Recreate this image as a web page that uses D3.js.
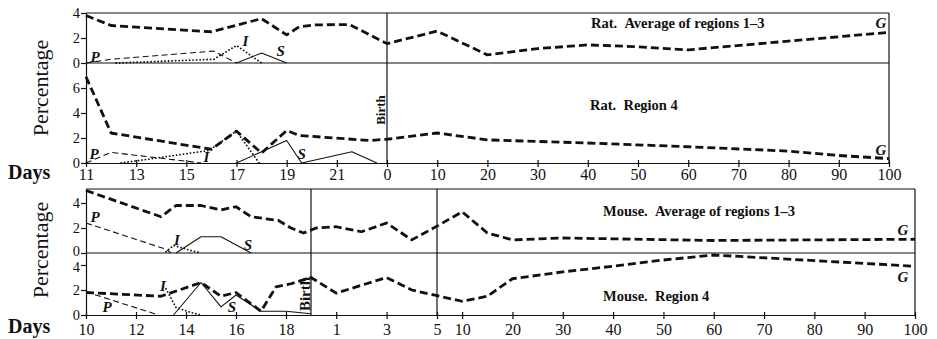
<!DOCTYPE html>
<html>
<head>
<meta charset="utf-8">
<script src="https://cdn.jsdelivr.net/npm/d3@7"></script>
<style>
  body { margin: 0; background: #fff; }
  svg text { font-family: "Liberation Serif", "DejaVu Serif", serif; fill: #111; }
</style>
</head>
<body>
<svg id="chart" width="937" height="339"></svg>
<script>
"use strict";

// prenatal points are [day of gestation, %], postnatal points are [day after birth, %]
const ratBirth = 23;
const mouseBirth = 19;

// Rat. Average of regions 1-3
const ratAvgG_pre = [[11, 3.8], [12, 3.0], [16, 2.5], [18, 3.55], [19, 2.25], [19.5, 2.9], [20.1, 3.05], [21.5, 3.08]];
const ratAvgG_post = [[0, 1.55], [10, 2.55], [20, 0.65], [30, 1.15], [40, 1.45], [50, 1.3], [60, 1.05], [80, 1.75], [100, 2.45]];
const ratAvgP = [[11, 0], [12, 0.3], [16.1, 0.95], [17, 0]];
const ratAvgI = [[12.2, 0], [16.1, 0.3], [17, 1.4], [18, 0]];
const ratAvgS = [[17, 0], [18, 0.8], [19, 0]];

// Rat. Region 4
const ratR4G_pre = [[11, 6.9], [12, 2.4], [16, 1.1], [17, 2.55], [18, 0.8], [19, 2.6], [19.5, 2.2], [22.3, 1.8]];
const ratR4G_post = [[0, 1.9], [10, 2.4], [20, 1.85], [40, 1.6], [60, 1.3], [80, 0.95], [90, 0.6], [100, 0.35]];
const ratR4P = [[11, 0], [12, 0.85], [15.6, 0]];
const ratR4I = [[12.4, 0], [15.9, 1.0], [17, 2.55], [17.9, 0]];
const ratR4S = [[17, 0], [19, 1.8], [19.6, 0], [21.6, 0.9], [22.6, 0]];

// Mouse. Average of regions 1-3
const mouseAvgG_pre = [[10, 5.0], [13, 2.9], [13.6, 3.8], [14.6, 3.8], [15.4, 3.45], [16, 3.7], [16.6, 2.9], [17.7, 2.6], [18.2, 2.0], [18.7, 1.6]];
const mouseAvgG_post = [[0.2, 2.0], [1, 2.1], [2, 1.7], [3, 2.4], [4, 1.05], [5, 2.15], [10, 3.3], [15, 1.6], [20, 1.05], [30, 1.2], [60, 1.0], [100, 1.1]];
const mouseAvgP = [[10, 2.4], [13.2, 0.3], [13.4, 0]];
const mouseAvgI = [[13.2, 0.1], [13.5, 0.6], [14.2, 0.2], [14.6, 0]];
const mouseAvgS = [[13.6, 0], [14.6, 1.3], [15.4, 1.3], [16.6, 0]];

// Mouse. Region 4
const mouseR4G_pre = [[10, 1.8], [13, 1.5], [14.6, 2.6], [15.4, 1.5], [16, 1.8], [17, 0.3], [17.6, 2.25], [18.2, 2.5]];
const mouseR4G_post = [[0, 3.0], [1, 1.75], [3, 3.0], [4, 2.0], [5, 1.55], [10, 1.1], [15, 1.5], [20, 2.9], [30, 3.45], [40, 3.9], [50, 4.4], [60, 4.8], [80, 4.35], [100, 3.9]];
const mouseR4P = [[10, 1.85], [12.9, 0]];
const mouseR4I = [[13.2, 2.1], [13.6, 0.6], [14.2, 0.2], [14.6, 0]];
const mouseR4S = [[13.5, 0], [14.6, 2.6], [15.4, 0.65], [16, 1.6], [17, 0.3], [18, 0.3], [19, 0.1]];

// axis ticks
const ratTicksPre = [11, 13, 15, 17, 19, 21];
const ratTicksPost = [0, 10, 20, 30, 40, 50, 60, 70, 80, 90, 100];
const mouseTicksPre = [10, 12, 14, 16, 18];
const mouseTicksPost = [1, 3, 5, 10, 20, 30, 40, 50, 60, 70, 80, 90, 100];

const serif = '"Liberation Serif", "DejaVu Serif", serif';
const svg = d3.select('#chart').style('font-family', serif);

// one continuous "age" axis: postnatal day p sits at birth + p
function toAge(pre, post, birth) {
  return pre.concat(post.map(function(d) { return [birth + d[0], d[1]]; }));
}

const ratX = d3.scaleLinear()
  .domain([11, ratBirth, ratBirth + 100])
  .range([86, 387, 889]);
const mouseX = d3.scaleLinear()
  .domain([10, mouseBirth, mouseBirth + 5, mouseBirth + 100])
  .range([86, 311, 437, 915]);

const ratTopY = d3.scaleLinear().domain([0, 4]).range([63, 13]);
const ratBotY = d3.scaleLinear().domain([0, 8]).range([163, 63]);
const mouseTopY = d3.scaleLinear().domain([0, 5.12]).range([253, 189]);
const mouseBotY = d3.scaleLinear().domain([0, 4.96]).range([315, 253]);

const styles = {
  G: { w: 2.8, dash: '8,4', cap: 'butt' },
  P: { w: 1.1, dash: '6,3.5', cap: 'butt' },
  I: { w: 1.8, dash: '0.1,3.4', cap: 'round' },
  S: { w: 1.1, dash: null, cap: 'butt' },
};

function drawSeries(x, y, pts, kind) {
  const st = styles[kind];
  svg.append('path')
    .datum(pts)
    .attr('fill', 'none')
    .attr('stroke', '#111')
    .attr('stroke-width', st.w)
    .attr('stroke-dasharray', st.dash)
    .attr('stroke-linecap', st.cap)
    .attr('stroke-linejoin', 'round')
    .attr('d', d3.line()
      .x(function(d) { return x(d[0]); })
      .y(function(d) { return y(d[1]); }));
}

function seriesLabel(x, y, at, kind) {
  svg.append('text')
    .attr('x', x(at[0]))
    .attr('y', y(at[1]))
    .attr('text-anchor', 'middle')
    .style('font-size', '15px')
    .style('font-style', 'italic')
    .style('font-weight', 'bold')
    .text(kind);
}

function styleAxis(g, size) {
  g.attr('font-family', null).attr('font-size', null);
  g.selectAll('text').style('font-family', serif).style('font-size', size + 'px').attr('fill', '#111');
  g.selectAll('line, path').attr('stroke', '#111').attr('stroke-width', 1.2);
}

// nudge: value -> small vertical shift of that tick's label, so stacked labels don't collide
function yAxis(scale, ticks, nudge) {
  const g = svg.append('g')
    .attr('transform', 'translate(86,0)')
    .call(d3.axisLeft(scale).tickValues(ticks).tickSize(5).tickPadding(1).tickSizeOuter(0).tickFormat(d3.format('d')));
  styleAxis(g, 14.5);
  if (nudge) {
    g.selectAll('.tick text').attr('y', function(d) { return nudge[d] || 0; });
  }
}

function xAxis(scale, y0, ages, labels, pad) {
  const g = svg.append('g')
    .attr('transform', 'translate(0,' + y0 + ')')
    .call(d3.axisBottom(scale).tickValues(ages).tickSize(4).tickPadding(pad).tickSizeOuter(0)
      .tickFormat(function(d, i) { return labels[i]; }));
  g.selectAll('.tick line').attr('y1', -3);
  styleAxis(g, 16);
}

function frame(x, yTop, yBot, verticals) {
  const x0 = x.range()[0];
  const x1 = x.range()[x.range().length - 1];
  const top = yTop.range()[1];
  const mid = yTop.range()[0];
  const bot = yBot.range()[0];
  const g = svg.append('g').attr('stroke', '#111').attr('stroke-width', 1.2);
  g.append('line').attr('x1', x0).attr('x2', x1).attr('y1', top).attr('y2', top);
  g.append('line').attr('x1', x0).attr('x2', x1).attr('y1', mid).attr('y2', mid);
  g.append('line').attr('x1', x1).attr('x2', x1).attr('y1', top).attr('y2', bot);
  verticals.forEach(function(v) {
    g.append('line').attr('x1', x(v)).attr('x2', x(v)).attr('y1', top).attr('y2', bot);
  });
}

function panelTitle(x, y, txt) {
  svg.append('text')
    .attr('x', x).attr('y', y)
    .style('font-size', '14.5px')
    .style('font-weight', 'bold')
    .text(txt);
}

function sideText(cy, txt) {
  svg.append('text')
    .attr('transform', 'translate(48,' + cy + ') rotate(-90)')
    .attr('text-anchor', 'middle')
    .style('font-size', '22px')
    .text(txt);
}

function daysText(y) {
  svg.append('text')
    .attr('x', 8).attr('y', y)
    .style('font-size', '20px')
    .style('font-weight', 'bold')
    .text('Days');
}

function birthText(x, cy, size) {
  svg.append('text')
    .attr('transform', 'translate(' + x + ',' + cy + ') rotate(-90)')
    .attr('text-anchor', 'middle')
    .style('font-size', size + 'px')
    .style('font-weight', 'bold')
    .text('Birth');
}

// ---------- Rat ----------
frame(ratX, ratTopY, ratBotY, [ratBirth]);
yAxis(ratTopY, [0, 2, 4]);
yAxis(ratBotY, [0, 2, 4, 6]);
xAxis(ratX, 163,
  ratTicksPre.concat(ratTicksPost.map(function(d) { return ratBirth + d; })),
  ratTicksPre.concat(ratTicksPost), 2);

drawSeries(ratX, ratTopY, toAge(ratAvgG_pre, ratAvgG_post, ratBirth), 'G');
drawSeries(ratX, ratTopY, ratAvgP, 'P');
drawSeries(ratX, ratTopY, ratAvgI, 'I');
drawSeries(ratX, ratTopY, ratAvgS, 'S');
seriesLabel(ratX, ratTopY, [11.36, 0.08], 'P');
seriesLabel(ratX, ratTopY, [17.36, 1.36], 'I');
seriesLabel(ratX, ratTopY, [18.76, 0.56], 'S');
seriesLabel(ratX, ratTopY, [ratBirth + 98.4, 2.8], 'G');

drawSeries(ratX, ratBotY, toAge(ratR4G_pre, ratR4G_post, ratBirth), 'G');
drawSeries(ratX, ratBotY, ratR4P, 'P');
drawSeries(ratX, ratBotY, ratR4I, 'I');
drawSeries(ratX, ratBotY, ratR4S, 'S');
seriesLabel(ratX, ratBotY, [11.32, 0.32], 'P');
seriesLabel(ratX, ratBotY, [15.8, 0.05], 'I');
seriesLabel(ratX, ratBotY, [19.6, 0.35], 'S');
seriesLabel(ratX, ratBotY, [ratBirth + 98.4, 0.64], 'G');

panelTitle(591, 28, 'Rat.\u2002Average of regions 1\u20133');
panelTitle(590, 110, 'Rat.\u2002Region 4');
sideText(88, 'Percentage');
daysText(179);
birthText(ratX(ratBirth) - 2, 110, 13);

// ---------- Mouse ----------
frame(mouseX, mouseTopY, mouseBotY, [mouseBirth, mouseBirth + 5]);
yAxis(mouseTopY, [0, 2, 4], { 0: -2 });
yAxis(mouseBotY, [0, 2, 4], { 4: 2 });
xAxis(mouseX, 315,
  mouseTicksPre.concat(mouseTicksPost.map(function(d) { return mouseBirth + d; })),
  mouseTicksPre.concat(mouseTicksPost), 5);

drawSeries(mouseX, mouseTopY, toAge(mouseAvgG_pre, mouseAvgG_post, mouseBirth), 'G');
drawSeries(mouseX, mouseTopY, mouseAvgP, 'P');
drawSeries(mouseX, mouseTopY, mouseAvgI, 'I');
drawSeries(mouseX, mouseTopY, mouseAvgS, 'S');
seriesLabel(mouseX, mouseTopY, [10.36, 2.48], 'P');
seriesLabel(mouseX, mouseTopY, [13.64, 0.64], 'I');
seriesLabel(mouseX, mouseTopY, [16.48, 0.24], 'S');
seriesLabel(mouseX, mouseTopY, [mouseBirth + 97.6, 1.44], 'G');

drawSeries(mouseX, mouseBotY, toAge(mouseR4G_pre, mouseR4G_post, mouseBirth), 'G');
drawSeries(mouseX, mouseBotY, mouseR4P, 'P');
drawSeries(mouseX, mouseBotY, mouseR4I, 'I');
drawSeries(mouseX, mouseBotY, mouseR4S, 'S');
seriesLabel(mouseX, mouseBotY, [10.84, 0.24], 'P');
seriesLabel(mouseX, mouseBotY, [13.08, 1.92], 'I');
seriesLabel(mouseX, mouseBotY, [15.84, 0.24], 'S');
seriesLabel(mouseX, mouseBotY, [mouseBirth + 97.6, 2.64], 'G');

panelTitle(603, 216, 'Mouse.\u2002Average of regions 1\u20133');
panelTitle(603, 301, 'Mouse.\u2002Region 4');
sideText(250, 'Percentage');
daysText(333);
birthText(mouseX(mouseBirth) - 1, 294, 15);
</script>
</body>
</html>
